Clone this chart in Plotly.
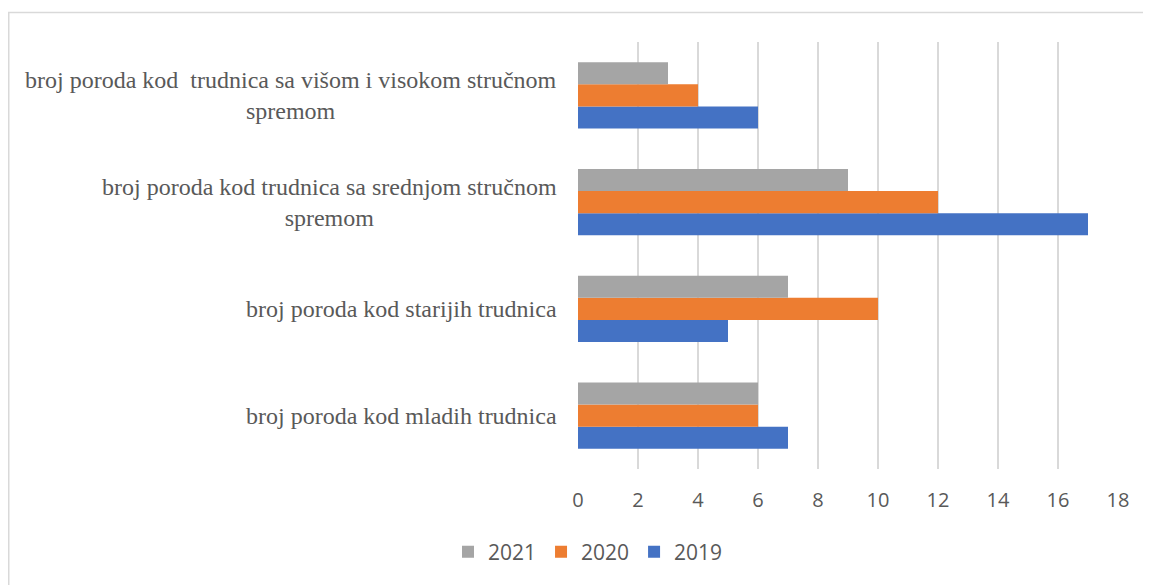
import plotly.graph_objects as go

categories = [
    "broj poroda kod mladih trudnica",
    "broj poroda kod starijih trudnica",
    "broj poroda kod trudnica sa srednjom stručnom<br>spremom",
    "broj poroda kod\u00a0 trudnica sa višom i visokom stručnom<br>spremom",
]
series_names = ["2019", "2020", "2021"]
values_2019 = [7, 5, 17, 6]
values_2020 = [6, 10, 12, 4]
values_2021 = [6, 7, 9, 3]
x_ticks = [0, 2, 4, 6, 8, 10, 12, 14, 16, 18]

colors = {"2019": "#4472C4", "2020": "#ED7D31", "2021": "#A5A5A5"}
series_values = {"2019": values_2019, "2020": values_2020, "2021": values_2021}

# the page body adds an 8px offset; positions below are in figure coordinates
OFF = 8
W, H = 1151, 585
ML = 578 - OFF
MT = 42 - OFF
PR = 1118 - OFF          # plot right edge (figure coords)
PB = 469 - OFF           # plot bottom edge (figure coords)
MR = W - PR
MB = H - PB

fig = go.Figure()
for name in series_names:
    fig.add_trace(go.Bar(
        y=list(range(len(categories))),
        x=series_values[name],
        name=name,
        orientation="h",
        marker=dict(color=colors[name], line=dict(width=0)),
    ))

# category labels as centered multi-line annotations
for i, cat in enumerate(categories):
    fig.add_annotation(
        x=0, xref="paper", xanchor="right", xshift=-19,
        y=i, yref="y", yanchor="middle",
        text=cat, showarrow=False, align="center",
        font=dict(family="Liberation Serif", size=24, color="#595959"),
    )

pw = PR - ML
ph = PB - MT
# light outer chart border
fig.add_shape(
    type="rect", xref="paper", yref="paper",
    x0=(0.75 - ML) / pw, x1=(W + 20 - ML) / pw,
    y0=-(H + 20 - PB) / ph, y1=(PB - 4.5) / ph,
    line=dict(color="#D9D9D9", width=1.5), fillcolor="rgba(0,0,0,0)", layer="below",
)

fig.update_layout(
    width=W, height=H,
    margin=dict(l=ML, r=MR, t=MT, b=MB, pad=0),
    paper_bgcolor="white", plot_bgcolor="white",
    barmode="group", bargap=0.38, bargroupgap=0,
    showlegend=True,
    legend=dict(
        orientation="h", traceorder="reversed",
        x=(588 - OFF - ML) / pw, xanchor="center",
        y=-(552 - OFF - PB) / ph, yanchor="middle",
        font=dict(family="Open Sans, sans-serif", size=21, color="#595959"),
        itemwidth=30,
    ),
    xaxis=dict(
        range=[0, 18], tickvals=x_ticks, ticktext=[str(t) for t in x_ticks],
        showgrid=True, gridcolor="#D9D9D9", gridwidth=1.5,
        zeroline=False, showline=False, ticks="",
        ticklabelstandoff=17,
        tickfont=dict(family="Open Sans, sans-serif", size=20, color="#595959"),
        fixedrange=True,
    ),
    yaxis=dict(
        range=[-0.5, len(categories) - 0.5],
        showticklabels=False, showgrid=False, zeroline=False, showline=False, ticks="",
        fixedrange=True,
    ),
    font=dict(family="Open Sans, sans-serif", color="#595959"),
)

fig.write_html("out.html")
